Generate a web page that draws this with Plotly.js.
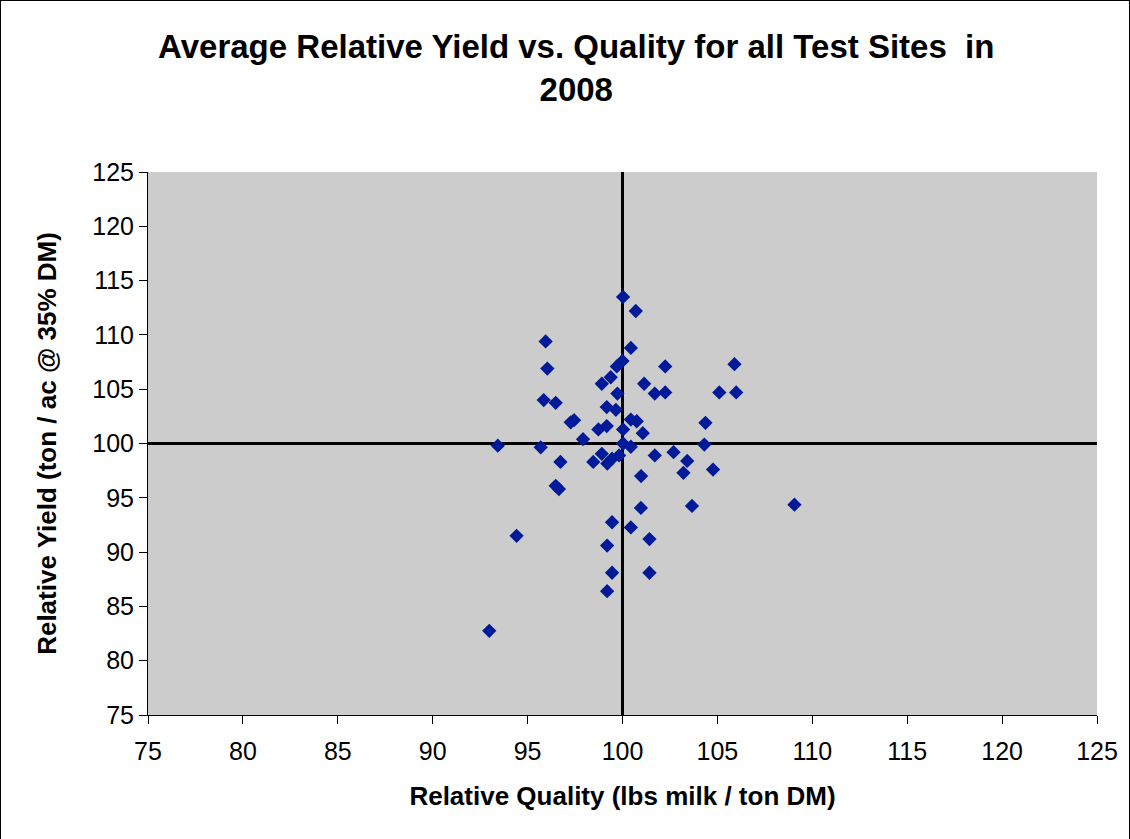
<!DOCTYPE html>
<html>
<head>
<meta charset="utf-8">
<script src="https://cdn.plot.ly/plotly-3.0.1.min.js"></script>
<style>
  html, body { margin: 0; padding: 0; background: #ffffff; }
  #frame { position: absolute; left: 0; top: 0; width: 1128px; height: 839px; border-left: 1px solid #000; border-top: 1px solid #000; border-right: 1px solid #000; box-sizing: content-box; }
  #chart { width: 1128px; height: 838px; }
</style>
</head>
<body>
<div id="frame"><div id="chart"></div></div>
<script>
// Relative quality (x) and relative yield (y) for each test hybrid
const relativeQuality = [
  100.03, 100.70, 95.95, 100.44, 100.00, 99.70, 96.04, 102.25, 105.90, 99.38,
  98.91, 101.14, 101.70, 102.25, 105.10, 105.99, 99.73, 95.85, 96.48, 99.17,
  99.65, 97.27, 97.45, 100.44, 100.75, 104.37, 98.73, 99.17, 100.03, 101.07,
  97.92, 100.03, 100.44, 93.43, 95.69, 104.31, 98.91, 98.46, 99.20, 99.45,
  99.82, 101.70, 102.69, 103.41, 103.21, 104.77, 100.98, 96.73, 96.48, 96.65,
  100.97, 103.66, 109.06, 99.45, 100.44, 94.42, 101.42, 99.19, 99.45, 101.42,
  99.19, 92.98
];
const relativeYield = [
  113.5, 112.2, 109.4, 108.8, 107.6, 107.1, 106.9, 107.1, 107.3, 106.1,
  105.5, 105.5, 104.6, 104.7, 104.7, 104.7, 104.6, 104.0, 103.75, 103.35,
  103.1, 101.95, 102.15, 102.2, 102.05, 101.9, 101.3, 101.6, 101.3, 100.95,
  100.4, 100.0, 99.7, 99.8, 99.65, 99.9, 99.05, 98.3, 98.15, 98.6,
  98.9, 98.9, 99.2, 98.4, 97.3, 97.6, 97.0, 98.3, 96.1, 95.8,
  94.07, 94.25, 94.37, 92.75, 92.27, 91.5, 91.2, 90.6, 88.1, 88.1,
  86.4, 82.75
];
const referenceValue = 100;
const tickValues = [75, 80, 85, 90, 95, 100, 105, 110, 115, 120, 125];

const FONT = 'Liberation Sans, Arial, sans-serif';

const trace = {
  type: 'scatter',
  mode: 'markers',
  x: relativeQuality,
  y: relativeYield,
  marker: { symbol: 'diamond', size: 11, color: '#001a99', line: { width: 0 } },
  hoverinfo: 'x+y',
  showlegend: false
};

const axisCommon = {
  range: [75, 125],
  tickvals: tickValues,
  ticktext: tickValues.map(String),
  ticks: 'outside',
  ticklen: 8,
  tickwidth: 1,
  tickcolor: '#000',
  showline: true,
  linecolor: '#000',
  linewidth: 1,
  mirror: false,
  showgrid: false,
  zeroline: false,
  tickfont: { family: FONT, size: 25, color: '#000' }
};

const layout = {
  width: 1128,
  height: 838,
  paper_bgcolor: '#ffffff',
  plot_bgcolor: '#cccccc',
  margin: { l: 147, r: 32, t: 171, b: 124 },
  title: {
    text: '<b>Average Relative Yield vs. Quality for all Test Sites  in<br>2008</b>',
    font: { family: FONT, size: 33, color: '#000' },
    x: 0.51, xanchor: 'center',
    y: 0.932, yanchor: 'top'
  },
  xaxis: Object.assign({}, axisCommon, {
    ticklabelstandoff: 6,
    title: { text: '<b>Relative Quality (lbs milk / ton DM)</b>', font: { family: FONT, size: 26, color: '#000' }, standoff: 22 }
  }),
  yaxis: Object.assign({}, axisCommon, {
    ticksuffix: ' ',
    title: { text: '<b>Relative Yield (ton / ac @ 35% DM)</b>', font: { family: FONT, size: 26, color: '#000' }, standoff: 28 }
  }),
  shapes: [
    { type: 'line', xref: 'x', yref: 'paper', x0: referenceValue, x1: referenceValue, y0: 0, y1: 1, line: { color: '#000', width: 3 }, layer: 'below' },
    { type: 'line', xref: 'paper', yref: 'y', x0: 0, x1: 1, y0: referenceValue, y1: referenceValue, line: { color: '#000', width: 3 }, layer: 'below' }
  ]
};

Plotly.newPlot('chart', [trace], layout, { displayModeBar: false, staticPlot: true });
</script>
</body>
</html>
